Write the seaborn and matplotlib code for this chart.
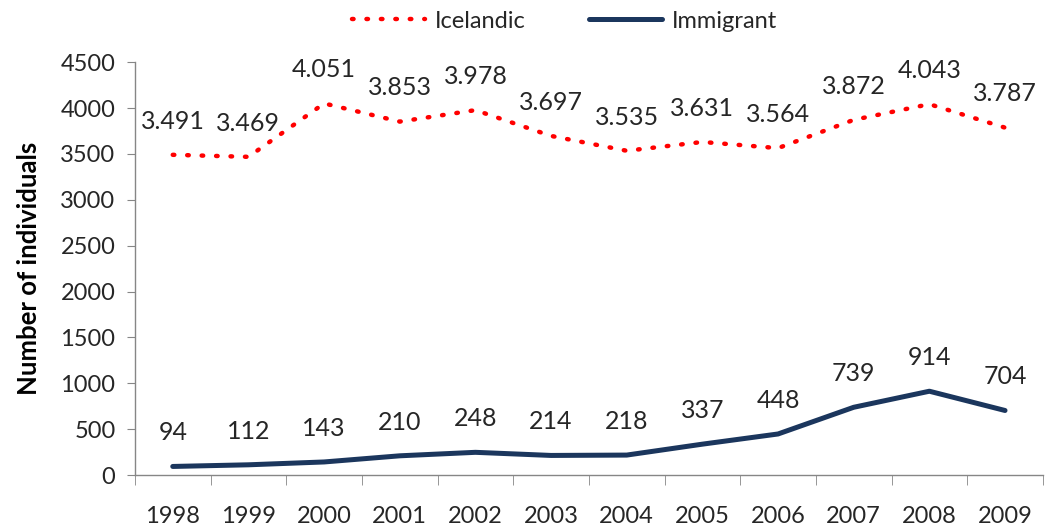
import seaborn as sns
import matplotlib.pyplot as plt
import pandas as pd

years = ['1998', '1999', '2000', '2001', '2002', '2003', '2004', '2005', '2006', '2007', '2008', '2009']
icelandic = [3491, 3469, 4051, 3853, 3978, 3697, 3535, 3631, 3564, 3872, 4043, 3787]
immigrant = [94, 112, 143, 210, 248, 214, 218, 337, 448, 739, 914, 704]

df = pd.DataFrame({'Year': years, 'Icelandic': icelandic, 'Immigrant': immigrant})
df['pos'] = range(len(years))

sns.set_style('white')
plt.rcParams['font.family'] = ['Lato', 'DejaVu Sans']

fig, ax = plt.subplots(figsize=(10.46, 5.32), dpi=100)
fig.subplots_adjust(left=0.129, right=0.997, top=0.883, bottom=0.107)

sns.lineplot(data=df, x='pos', y='Icelandic', ax=ax, color='#ff0000', lw=3.2,
             linestyle=(0, (0.35, 2.9)), label='Icelandic')
sns.lineplot(data=df, x='pos', y='Immigrant', ax=ax, color='#1b365d', lw=3.6,
             label='Immigrant')
ax.lines[0].set_dash_capstyle('round')

for i, v in enumerate(icelandic):
    s = f'{v:,}'.replace(',', '.')
    ax.annotate(s, (i, v), xytext=(0, 16), textcoords='offset points',
                ha='center', va='bottom', fontsize=18, color='#262626')
for i, v in enumerate(immigrant):
    ax.annotate(str(v), (i, v), xytext=(0, 16), textcoords='offset points',
                ha='center', va='bottom', fontsize=18, color='#262626')

ax.set_xlim(-0.5, len(years) - 0.5)
ax.set_ylim(0, 4500)
ax.set_yticks(range(0, 4501, 500))
ax.set_xticks(range(len(years)))
ax.set_xticklabels(years)
ax.set_xticks([i + 0.5 for i in range(-1, len(years))], minor=True)
ax.tick_params(axis='x', which='major', length=0, pad=22, labelsize=17, labelcolor='#262626')
ax.tick_params(axis='x', which='minor', length=7, color='#868686', direction='out', bottom=True)
ax.tick_params(axis='y', length=6, color='#868686', direction='out', labelsize=17,
               labelcolor='#262626', pad=8, left=True)

for side in ['top', 'right']:
    ax.spines[side].set_visible(False)
for side in ['left', 'bottom']:
    ax.spines[side].set_color('#868686')
    ax.spines[side].set_linewidth(1)

ax.set_xlabel('')
ax.set_ylabel('Number of individuals', fontsize=18.5, fontweight='bold', color='#000000', labelpad=14)

ax.legend(loc='lower center', bbox_to_anchor=(0.473, 1.04), ncol=2, frameon=False,
          fontsize=17, handlelength=3.1, columnspacing=2.7, handletextpad=0.4,
          labelcolor='#262626', borderpad=0.1)

fig.savefig('out.png', dpi=100)
